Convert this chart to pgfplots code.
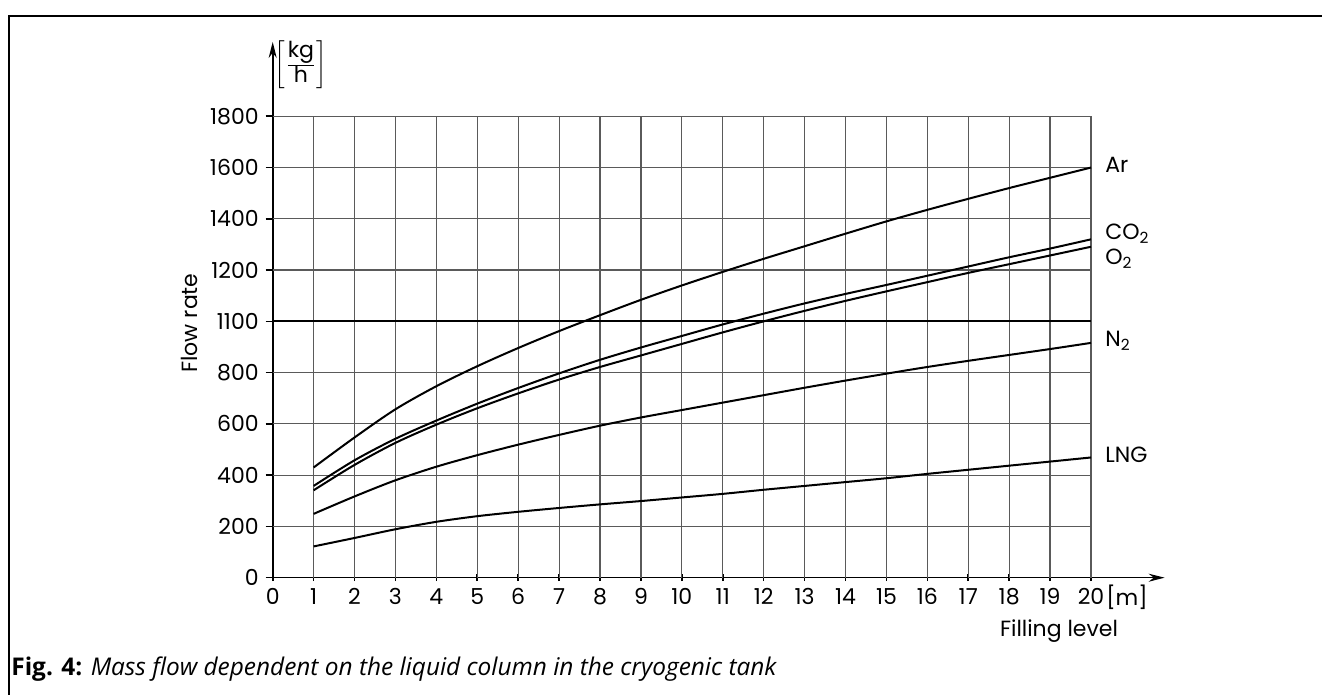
\documentclass[border=0pt]{standalone}
\usepackage{fontspec}
\setmainfont{Poppins}
\newfontfamily\capfont{Open Sans}
\usepackage{pgfplots}
\pgfplotsset{compat=1.18}
\usetikzlibrary{arrows.meta}
\definecolor{gridc}{HTML}{5A5A5A}
\begin{document}
\begin{tikzpicture}
\useasboundingbox (0,0) rectangle (661pt,347.5pt);
\draw[line width=0.75pt] (4.5pt,0) -- (4.5pt,339.5pt) -- (661pt,339.5pt);
\begin{axis}[
  at={(136.35pt,58.65pt)}, anchor=south west,
  x=20.4575pt, y=0.128167pt,
  xmin=0, xmax=21.8, ymin=0, ymax=2090,
  axis lines=left,
  axis line style={line width=0.8pt,-{Stealth[length=8pt,width=4pt]}},
  xtick={0,...,20}, ytick={0,200,...,1800},
  yticklabels={0,200,400,600,800,1100,1200,1400,1600,1800},
  xtick align=center, ytick align=outside,
  major tick length=3.5pt,
  tick style={line width=0.8pt, black},
  every tick label/.append style={font=\fontsize{11}{12}\selectfont},
  /pgf/number format/assume math mode=true,
  clip=false,
]
\pgfplotsinvokeforeach{1,...,20}{\draw[gridc, line width=0.6pt] (axis cs:#1,0) -- (axis cs:#1,1800);}
\pgfplotsinvokeforeach{200,400,600,800,1200,1400,1600,1800}{\draw[gridc, line width=0.6pt] (axis cs:0,#1) -- (axis cs:20,#1);}
\draw[black, line width=1pt] (axis cs:0,1000) -- (axis cs:20,1000);
% Ar
\addplot[black, line width=1pt, smooth] coordinates {(1,430)(2,547)(3,657)(4,747)(5,825)(6,896)(7,962)(8,1024)(9,1084)(10,1140)(11,1193)(12,1244)(13,1293)(14,1342)(15,1390)(16,1435)(17,1478)(18,1520)(19,1560)(20,1600)};
% CO2
\addplot[black, line width=1pt, smooth] coordinates {(1,358)(2,458)(3,542)(4,613)(5,679)(6,740)(7,797)(8,850)(9,898)(10,943)(11,988)(12,1030)(13,1070)(14,1107)(15,1142)(16,1178)(17,1214)(18,1250)(19,1284)(20,1320)};
% O2
\addplot[black, line width=1pt, smooth] coordinates {(1,341)(2,440)(3,526)(4,597)(5,661)(6,719)(7,773)(8,822)(9,867)(10,912)(11,957)(12,1000)(13,1041)(14,1080)(15,1117)(16,1153)(17,1189)(18,1223)(19,1257)(20,1291)};
% N2
\addplot[black, line width=1pt, smooth] coordinates {(1,249)(2,317)(3,380)(4,433)(5,478)(6,519)(7,557)(8,593)(9,625)(10,654)(11,683)(12,712)(13,741)(14,769)(15,796)(16,822)(17,846)(18,869)(19,892)(20,916)};
% LNG
\addplot[black, line width=1pt, smooth] coordinates {(1,122)(2,155)(3,189)(4,218)(5,240)(6,257)(7,272)(8,286)(9,299)(10,313)(11,327)(12,343)(13,358)(14,373)(15,388)(16,405)(17,421)(18,437)(19,453)(20,469)};
\end{axis}
\begin{scope}[every node/.style={inner sep=0pt, font=\fontsize{11}{12}\selectfont}]
\node[anchor=base west] at (552.5pt,261pt) {Ar};
\node[anchor=base west] at (552.5pt,227.5pt) {CO\textsubscript{2}};
\node[anchor=base west] at (552.5pt,215pt) {O\textsubscript{2}};
\node[anchor=base west] at (552.5pt,174.2pt) {N\textsubscript{2}};
\node[anchor=base west] at (552.5pt,116.2pt) {LNG};
\node[rotate=90, anchor=base] at (98.5pt,186pt) {Flow rate};
\node at (150.5pt,315pt) {$\left[\frac{\mbox{kg}}{\mbox{h}}\right]$};
\node at (563.5pt,49pt) {[m]};
\node[anchor=base] at (529.5pt,29pt) {Filling level};
\node[anchor=base west, font=\capfont\fontsize{12.2}{14}\selectfont] at (5.5pt,9.5pt) {\textbf{Fig. 4:} \textit{Mass flow dependent on the liquid column in the cryogenic tank}};
\end{scope}
\end{tikzpicture}
\end{document}
